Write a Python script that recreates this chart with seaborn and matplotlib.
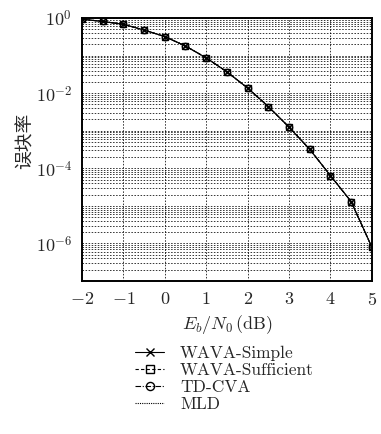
import numpy as np
import pandas as pd
import matplotlib
matplotlib.use("Agg")
import matplotlib.pyplot as plt
import seaborn as sns
from matplotlib.ticker import LogLocator, FixedLocator, NullFormatter

# Eb/N0 in dB and block error rate (all curves coincide)
snr = [-2, -1.5, -1, -0.5, 0, 0.5, 1, 1.5, 2, 2.5, 3, 3.5, 4, 4.5, 5]
wava_simple = [0.93, 0.81, 0.68, 0.48, 0.32, 0.18, 0.087, 0.037, 0.0137,
               0.0044, 1.25e-3, 3.2e-4, 6.4e-5, 1.3e-5, 8e-7]
wava_sufficient = [0.93, 0.81, 0.68, 0.48, 0.32, 0.18, 0.087, 0.037, 0.0137,
                   0.0044, 1.25e-3, 3.2e-4, 6.4e-5, 1.3e-5, 8e-7]
td_cva = [0.93, 0.81, 0.68, 0.48, 0.32, 0.18, 0.087, 0.037, 0.0137,
          0.0044, 1.25e-3, 3.2e-4, 6.4e-5, 1.3e-5, 8e-7]
mld = [0.93, 0.81, 0.68, 0.48, 0.32, 0.18, 0.087, 0.037, 0.0137,
       0.0044, 1.25e-3, 3.2e-4, 6.4e-5, 1.3e-5, 8e-7]

names = ["WAVA-Simple", "WAVA-Sufficient", "TD-CVA", "MLD"]
series = [wava_simple, wava_sufficient, td_cva, mld]
markers = ["x", "s", "o", ""]
styles = ["-", (0, (3, 2)), (0, (5, 1.5, 1, 1.5)), (0, (1, 1))]

sns.set_style("ticks")
plt.rcParams["font.family"] = ["cmr10", "Noto Sans CJK SC"]
plt.rcParams["mathtext.fontset"] = "cm"
plt.rcParams["axes.unicode_minus"] = False
plt.rcParams["axes.formatter.use_mathtext"] = True

fig = plt.figure(figsize=(3.81, 4.34), dpi=100)
ax = fig.add_axes([0.215, 0.3525, 0.761, 0.606])

for name, vals, m, ls in zip(names, series, markers, styles):
    df = pd.DataFrame({"snr": snr, "ber": vals})
    sns.lineplot(data=df, x="snr", y="ber", ax=ax, color="black", lw=0.8,
                 marker=m if m else None, markersize=4.5, markeredgewidth=1.0,
                 mfc="none" if m in ("s", "o") else "black", mec="black",
                 linestyle=ls, label=name)

ax.set_yscale("log")
ax.set_xlim(-2, 5)
ax.set_ylim(1e-7, 1)
ax.set_xticks(range(-2, 6))
ax.set_xticklabels([r"$-2$", r"$-1$", "$0$", "$1$", "$2$", "$3$", "$4$", "$5$"])
ax.yaxis.set_major_locator(FixedLocator([10.0 ** k for k in range(-7, 1)]))
ax.set_yticklabels(["", r"$10^{-6}$", "", r"$10^{-4}$", "", r"$10^{-2}$", "", r"$10^{0}$"])
ax.yaxis.set_minor_locator(LogLocator(base=10, subs=np.arange(2, 10), numticks=20))
ax.yaxis.set_minor_formatter(NullFormatter())

ax.grid(True, which="major", axis="both", color="black", lw=0.55, linestyle=(0, (2, 2)))
ax.grid(True, which="minor", axis="y", color="black", lw=0.55, linestyle=(0, (2, 2)))
ax.tick_params(which="both", length=0, labelsize=13, pad=7)
for s in ax.spines.values():
    s.set_linewidth(1.4)
    s.set_color("black")

ax.set_xlabel(r"$E_b/N_0\,(\mathrm{dB})$", fontsize=13, labelpad=4)
ax.set_ylabel("误块率", fontsize=13.5, family="Noto Sans CJK SC")
ax.yaxis.set_label_coords(-0.16, 0.532)

h, l = ax.get_legend_handles_labels()
ax.get_legend().remove()
fig.legend(h, l, loc="upper left", bbox_to_anchor=(0.336, 0.22), frameon=False,
           fontsize=12.5, handlelength=1.7, handletextpad=0.9, labelspacing=0.1,
           markerscale=1.3, borderaxespad=0)

fig.savefig("out.png", dpi=100)
